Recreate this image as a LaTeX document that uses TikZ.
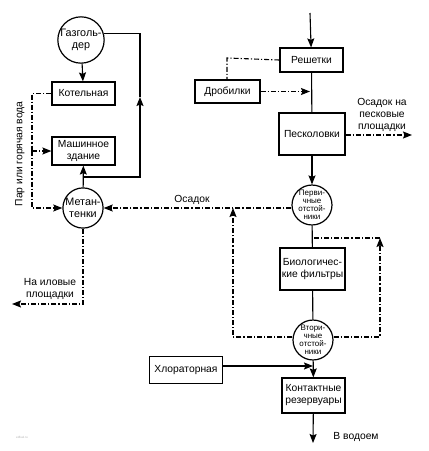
\documentclass[tikz,border=0pt]{standalone}
\usepackage{fontspec}
\setmainfont{Liberation Sans}
\usetikzlibrary{arrows,arrows.meta}

\begin{document}
\begin{tikzpicture}[x=1pt,y=-1pt,>={Stealth[length=9pt,width=7pt,inset=1.5pt]},line width=1.1pt,
    font=\fontsize{10.3}{12}\selectfont,
    block/.style={draw,line width=1.2pt,align=center,inner sep=0pt},
    tank/.style={draw,circle,line width=1.2pt,align=center,inner sep=0pt,
                 font=\fontsize{10.8}{12}\selectfont},
    smalltank/.style={tank,font=\fontsize{8}{8}\selectfont},
    dashdot/.style={dash pattern=on 5pt off 2pt on 1.2pt off 2pt},
    lbl/.style={align=center,inner sep=0pt}]
    \useasboundingbox (0,0) rectangle (429,451);

    % left part
    \node[tank,minimum size=40pt]                       (gas)  at (81,40)    {Газголь-\\дер};
    \node[block,minimum width=63pt,minimum height=23pt] (kot)  at (83.5,93.5) {Котельная};
    \node[block,minimum width=63pt,minimum height=28pt] (mash) at (83.5,151) {Машинное\\здание};
    \node[tank,minimum size=40pt]                       (met)  at (83,208)   {Метан-\\тенки};

    % right part
    \node[block,minimum width=63pt,minimum height=24pt] (resh)  at (311.5,60)  {Решетки};
    \node[block,minimum width=65pt,minimum height=23pt] (drob)  at (227.5,91.5) {Дробилки};
    \node[block,minimum width=66pt,minimum height=42pt] (pesk)  at (312,134)   {Песколовки};
    \node[smalltank,minimum size=36pt]                  (perv)  at (312,205)   {Перви-\\чные\\отстой-\\ники};
    \node[block,minimum width=65pt,minimum height=42pt] (bio)   at (312.5,269) {Биологичес-\\кие фильтры};
    \node[smalltank,minimum size=38pt]                  (vtor)  at (313,340)   {Втори-\\чные\\отстой-\\ники};
    \node[block,minimum width=73pt,minimum height=27pt] (chlor) at (186,370)   {Хлораторная};
    \node[block,minimum width=63pt,minimum height=35pt] (kont)  at (313.5,395.5) {Контактные\\резервуары};

    % labels
    \node[lbl]                (osadok) at (192,200) {Осадок};
    \node[lbl]                (pesplo) at (382,115) {Осадок на\\песковые\\площадки};
    \node[lbl]                (ilplo)  at (50,289)  {На иловые\\площадки};
    \node[lbl]                (vodoem) at (356,437) {В водоем};
    \node[lbl,rotate=90]      (par)    at (20,154)  {Пар или горячая вода};
    \node[lbl,gray!60,font=\fontsize{3}{3}\selectfont] (wm) at (22,437) {edfuel.ru};

    % free ends
    \coordinate (in)    at (310,13);
    \coordinate (out)   at (313,443);
    \coordinate (gbr)   at (83,177);
    \coordinate (gup)   at (140,97);
    \coordinate (pcor)  at (32,93.5);
    \coordinate (pmid)  at (32,151);
    \coordinate (pbot)  at (32,208);
    \coordinate (ilcor) at (83,304);
    \coordinate (ilend) at (12,304);
    \coordinate (drcor) at (227,58);
    \coordinate (drend) at (310,91.5);
    \coordinate (psend) at (412,135);
    \coordinate (lcor)  at (233,337);
    \coordinate (lend)  at (233,208);
    \coordinate (rcor)  at (380,337);
    \coordinate (rtop)  at (380,238);
    \coordinate (rend)  at (312,238);
    \coordinate (chend) at (313,366);

    % gas and heat
    \draw[->] (gas) -- (kot);
    \draw[->] (met) -- (mash);
    \draw[->] (gbr) -| (gup);
    \draw (gup) |- (gas.15);
    \draw[dashdot] (kot.west) -- (pcor) -- (pmid);
    \draw[dashdot,->] (pmid) -- (pbot) -- (met.west);
    \draw[dashdot,->] (pmid) -- (mash.west);
    \draw[dashdot,->] (met.south) -- (ilcor) -- (ilend);

    % water line
    \draw[->] (in) -- (resh);
    \draw (resh) -- (pesk);
    \draw[dashdot] (resh.west) -- (drcor) -- (drob.north -| drcor);
    \draw[dashdot,->] (drob.east) -- (drend);
    \draw[dashdot,->] (pesk.east |- psend) -- (psend);
    \draw[->] (pesk) -- (perv);
    \draw (perv) -- (bio);
    \draw (bio) -- (vtor);
    \draw[->] (vtor) -- (kont);
    \draw[->] (chlor.east |- chend) -- (chend);
    \draw[->] (kont) -- (out);

    % sludge
    \draw[dashdot,->] (perv.west |- met.east) -- (met.east);
    \draw[dashdot,->] (vtor.west |- lcor) -- (lcor) -- (lend);
    \draw[dashdot,->] (vtor.east |- rcor) -- (rcor) -- (rtop);
    \draw[dashdot] (rtop) -- (rend);
\end{tikzpicture}
\end{document}
